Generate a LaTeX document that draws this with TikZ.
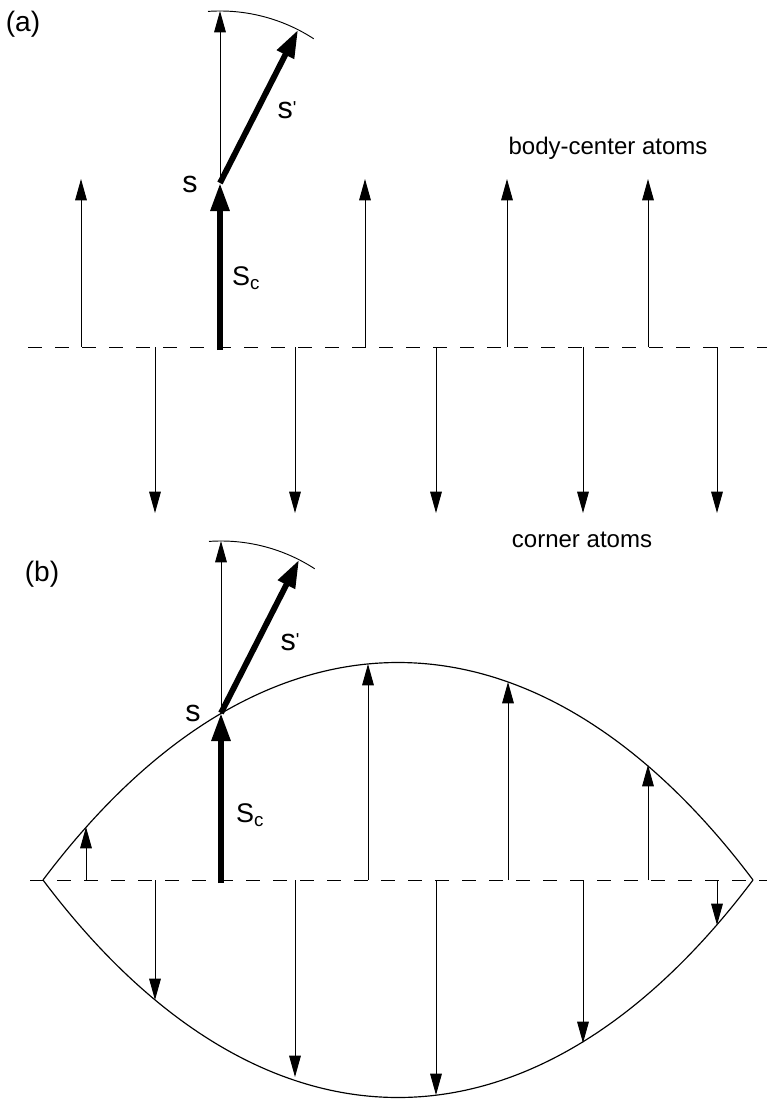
\documentclass[tikz,border=0pt]{standalone}
\usepackage{fontspec}
\setmainfont{Liberation Sans}
\usetikzlibrary{arrows.meta}

\begin{document}
\begin{tikzpicture}[
    x=0.03cm, y=-0.03cm,
    spin/.style={-{Triangle[length=0.64cm, width=0.35cm]}, line width=0.8pt},
    bigspin/.style={-{Triangle[length=0.84cm, width=0.54cm]}, line width=5pt},
    axisline/.style={dash pattern=on 0.42cm off 0.39cm, line width=0.8pt},
    envelope/.style={line width=1pt},
    panellabel/.style={font=\fontsize{24}{24}\selectfont, inner sep=0pt},
    spinlabel/.style={font=\fontsize{26}{26}\selectfont, inner sep=0pt},
    sclabel/.style={font=\fontsize{23}{23}\selectfont, inner sep=0pt, anchor=base west},
    atomlabel/.style={font=\fontsize{20.5}{20.5}\selectfont, inner sep=0pt},
]
\useasboundingbox (0,0) rectangle (767,1099);

% Panel (a)
\node[panellabel] (lbla) at (23,24) {(a)};
\coordinate (sa) at (220,183);
\draw[axisline] (28,347) -- (767,347);

% body-center atoms (up)
\foreach \x in {81,365,507,648}
  \draw[spin] (\x,347) -- (\x,179);
% corner atoms (down)
\foreach \x in {155,295,436,583,717}
  \draw[spin] (\x,347) -- (\x,513);

% rotated spin
\draw[spin] (sa) -- ++(90:5.16cm);
\draw[line width=0.8pt] (sa) ++(94:5.16cm) arc[start angle=94, end angle=57, radius=5.16cm];
\draw[bigspin] (220,350) -- (sa);
\draw[bigspin] (sa) -- ++(63:5.16cm);

\node[spinlabel] (sa-lbl) at (190,184) {s};
\node[spinlabel] (spa-lbl) at (287,110) {s\raisebox{0.25ex}{\fontsize{16}{16}\selectfont\textquotesingle}};
\node[sclabel] (sca-lbl) at (232,285) {S\raisebox{-0.35ex}{\fontsize{16}{16}\selectfont c}};

\node[atomlabel] (bc) at (608,148) {body-center atoms};
\node[atomlabel] (corner) at (582,540) {corner atoms};

% Panel (b)
\node[panellabel] (lblb) at (42,574) {(b)};
\coordinate (sb) at (221,713);
\coordinate (lensL) at (43,880);
\coordinate (lensR) at (753,880);
\draw[axisline] (30,880) -- (767,880);

% spin wave envelope
\draw[envelope] (lensL) .. controls (261,590) and (535,590) .. (lensR);
\draw[envelope] (lensL) .. controls (261,1170) and (535,1170) .. (lensR);

\foreach \x/\y in {86/827,368/664,508/682,648/765}
  \draw[spin] (\x,880) -- (\x,\y);
\foreach \x/\y in {155/1000,295/1077,436/1095,583/1043,717/925}
  \draw[spin] (\x,880) -- (\x,\y);

\draw[spin] (sb) -- ++(90:5.16cm);
\draw[line width=0.8pt] (sb) ++(94:5.16cm) arc[start angle=94, end angle=57, radius=5.16cm];
\draw[bigspin] (221,883) -- (sb);
\draw[bigspin] (sb) -- ++(63:5.16cm);

\node[spinlabel] (sb-lbl) at (193,713) {s};
\node[spinlabel] (spb-lbl) at (290,642) {s\raisebox{0.25ex}{\fontsize{16}{16}\selectfont\textquotesingle}};
\node[sclabel] (scb-lbl) at (236,822) {S\raisebox{-0.35ex}{\fontsize{16}{16}\selectfont c}};

\end{tikzpicture}
\end{document}
